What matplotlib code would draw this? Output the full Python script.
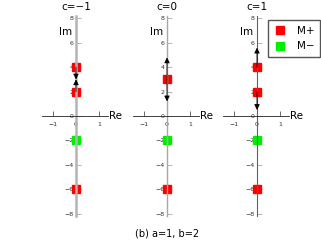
import numpy as np
import matplotlib.pyplot as plt

c_values = ["c=\u22121", "c=0", "c=1"]
m_plus = [[4, 2, -6], [3, -6], [4, 2, -6]]
m_minus = [[-2], [-2], [-2]]
# arrows (start, end) along the imaginary axis
arrows = [[(4, 3.0), (2, 3.0)],
          [(3, 4.8), (3, 1.2)],
          [(4, 5.6), (2, 0.5)]]
yticks = [-8, -6, -4, -2, 0, 2, 4, 6, 8]
xticks = [-1, 0, 1]
vline_style = [("#b4b4b4", 1.8), ("#a8a8a8", 1.0), ("#606060", 0.8)]

fig = plt.figure(figsize=(3.21, 2.42), dpi=100)
W, H = 321.0, 242.0
centers = [76, 167, 257]
ppu_x = 23.0
x0, x1 = -1.48, 1.37
y0, y1 = -8.2, 8.2

for i, cx in enumerate(centers):
    left = cx + x0 * ppu_x
    ax = fig.add_axes([left / W, (242 - 216) / H, (x1 - x0) * ppu_x / W, 200 / H])
    ax.set_xlim(x0, x1)
    ax.set_ylim(y0, y1)
    for s in ["top", "right"]:
        ax.spines[s].set_visible(False)
    ax.spines["left"].set_position("zero")
    ax.spines["bottom"].set_position("zero")
    col, lw = vline_style[i]
    ax.spines["left"].set_color(col)
    ax.spines["left"].set_linewidth(lw)
    ax.spines["bottom"].set_linewidth(0.6)
    ax.spines["bottom"].set_color("#222222")
    ax.set_xticks(xticks)
    ax.set_xticklabels(["\u22121", "0", "1"])
    ax.set_yticks(yticks)
    ax.set_yticklabels([("\u2212%d" % -v) if v < 0 else str(v) for v in yticks])
    ax.tick_params(axis="both", direction="in", length=3.5, width=0.5,
                   labelsize=4.5, colors="#333333", pad=1.5)
    ax.tick_params(axis="x", pad=4)
    ax.tick_params(axis="y", color="#999999")
    ax.patch.set_visible(False)

    ax.plot(np.zeros(len(m_plus[i])), m_plus[i], "s", color="#ff0000", ms=5.5,
            mec="#ff0000", clip_on=False, zorder=2, label="M+" if i == 0 else None)
    ax.plot(np.zeros(len(m_minus[i])), m_minus[i], "s", color="#00ee00", ms=5.5,
            mec="#00ee00", clip_on=False, zorder=2, label="M\u2212" if i == 0 else None)
    for (a, b) in arrows[i]:
        ax.annotate("", xy=(0, b), xytext=(0, a),
                    arrowprops=dict(arrowstyle="-|>", color="black", lw=0.6,
                                    mutation_scale=8, shrinkA=0, shrinkB=0),
                    zorder=3)

    ax.text(0, 1.02, c_values[i], transform=ax.get_xaxis_transform(),
            ha="center", va="bottom", fontsize=7.5)
    ax.text(-0.15, 6.9, "Im", ha="right", va="center", fontsize=7.5)
    ax.text(x1 + 0.05, 0, "Re", ha="left", va="center", fontsize=7.5)
    if i == 0:
        handles, labels = ax.get_legend_handles_labels()

fig.legend(handles, labels, loc="upper right", bbox_to_anchor=(320 / W, 1 - 20 / H),
           fontsize=7.5, frameon=True, fancybox=False, edgecolor="#555555",
           handlelength=1.2, handletextpad=1.0, borderpad=0.55, labelspacing=0.55,
           borderaxespad=0, framealpha=1)

fig.text(167 / W, 1 - 233 / H, "(b) a=1, b=2", ha="center", va="center", fontsize=7)

fig.savefig("out.png", dpi=100)
